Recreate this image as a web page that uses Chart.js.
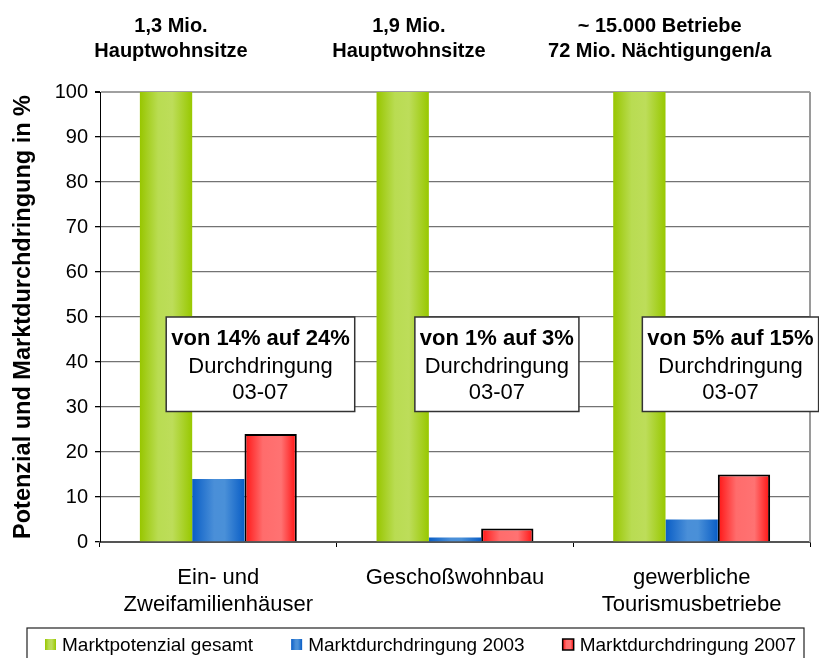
<!DOCTYPE html>
<html><head><meta charset="utf-8">
<script src="https://cdn.jsdelivr.net/npm/chart.js@4.4.1/dist/chart.umd.min.js"></script>
<style>html,body{margin:0;padding:0;background:#fff}#wrap{width:819px;height:658px}</style>
</head><body><div id="wrap"><canvas id="c" width="819" height="658"></canvas></div>
<script>
// ---- data ----
const categories = [['Ein- und', 'Zweifamilienhäuser'], 'Geschoßwohnbau', ['gewerbliche', 'Tourismusbetriebe']];
const seriesNames = ['Marktpotenzial gesamt', 'Marktdurchdringung 2003', 'Marktdurchdringung 2007'];
const marktpotenzial = [100, 100, 100];
const durchdringung2003 = [14, 1, 5];
const durchdringung2007 = [24, 3, 15];
const yTicks = [0, 10, 20, 30, 40, 50, 60, 70, 80, 90, 100];
const yTitle = 'Potenzial und Marktdurchdringung in %';
const headerLabels = [['1,3 Mio.', 'Hauptwohnsitze'], ['1,9 Mio.', 'Hauptwohnsitze'], ['~ 15.000 Betriebe', '72 Mio. Nächtigungen/a']];
const boxHeadlines = ['von 14% auf 24%', 'von 1% auf 3%', 'von 5% auf 15%'];
const boxSubLines = ['Durchdringung', '03-07'];

// ---- styling / layout ----
const FONT = "'Liberation Sans', Arial, sans-serif";
const CAT_PCT = 0.663;
const headerShift = [-0.2, -0.195, -0.135];   // fraction of category width
const boxShift = [0.178, 0.177, 0.164];
const boxTopValue = 50, boxBottomValue = 29;
const gradStops = [
  [[0, '#98c600'], [0.35, '#b9dc52'], [0.62, '#bddd5a'], [1, '#98c800']],
  [[0, '#0a5ec6'], [0.42, '#4a8fd8'], [0.62, '#4a90d8'], [1, '#0a5ec6']],
  [[0, '#ff1414'], [0.35, '#ff6c6c'], [0.7, '#ff7272'], [1, '#ff1010']]
];

function makeGrad(c2d, x0, x1, stops) {
  const g = c2d.createLinearGradient(x0, 0, x1, 0);
  stops.forEach(s => g.addColorStop(s[0], s[1]));
  return g;
}
function barFill(dsIndex) {
  return (ctx) => {
    const chart = ctx.chart;
    const xs = chart.scales && chart.scales.x;
    if (!xs || !xs.width || ctx.type !== 'data') return gradStops[dsIndex][1][1];
    const catW = xs.width / categories.length;
    const barW = catW * CAT_PCT / 3;
    const center = xs.getPixelForValue(ctx.dataIndex);
    const left = center - 1.5 * barW + dsIndex * barW;
    return makeGrad(chart.ctx, left, left + barW, gradStops[dsIndex]);
  };
}

const decor = {
  id: 'decor',
  afterDatasetsDraw(chart) {
    const { ctx, chartArea: a, scales: { x, y } } = chart;
    ctx.save();
    // right border of plot area
    ctx.strokeStyle = '#9a9a9a'; ctx.lineWidth = 2;
    ctx.beginPath(); ctx.moveTo(a.right, a.top); ctx.lineTo(a.right, a.bottom); ctx.stroke();

    const catW = a.width / categories.length;
    // annotation boxes
    const top = y.getPixelForValue(boxTopValue);
    const bottom = y.getPixelForValue(boxBottomValue);
    boxHeadlines.forEach((t, i) => {
      ctx.font = 'bold 22px ' + FONT;
      const w = ctx.measureText(t).width + 10;
      const cx = x.getPixelForValue(i) + boxShift[i] * catW;
      ctx.fillStyle = '#fff';
      ctx.fillRect(cx - w / 2, top, w, bottom - top);
      ctx.strokeStyle = '#333'; ctx.lineWidth = 1.5;
      ctx.strokeRect(cx - w / 2, top, w, bottom - top);
      ctx.fillStyle = '#000';
      ctx.textAlign = 'center'; ctx.textBaseline = 'alphabetic';
      ctx.fillText(t, cx, top + 27.5);
      ctx.font = '22px ' + FONT;
      boxSubLines.forEach((s, k) => ctx.fillText(s, cx, top + 55.5 + k * 26.5));
    });

    // header labels
    ctx.font = 'bold 20px ' + FONT;
    ctx.fillStyle = '#000';
    headerLabels.forEach((lines, i) => {
      const cx = x.getPixelForValue(i) + headerShift[i] * catW;
      lines.forEach((s, k) => ctx.fillText(s, cx, a.top - 60 + k * 25));
    });

    // legend
    const H = chart.height;
    ctx.strokeStyle = '#222'; ctx.lineWidth = 1.2;
    ctx.strokeRect(27, H - 30, 777, 45);
    ctx.font = '19px ' + FONT;
    ctx.textAlign = 'left';
    let lx = 45;
    seriesNames.forEach((n, i) => {
      ctx.fillStyle = makeGrad(ctx, lx, lx + 11, gradStops[i]);
      ctx.fillRect(lx, H - 19, 11, 11);
      if (i === 2) { ctx.strokeStyle = '#000'; ctx.lineWidth = 1.5; ctx.strokeRect(lx, H - 19, 11, 11); }
      ctx.fillStyle = '#000';
      ctx.fillText(n, lx + 17, H - 7);
      lx += 17 + ctx.measureText(n).width + 38;
    });
    ctx.restore();
  }
};

new Chart(document.getElementById('c'), {
  type: 'bar',
  data: {
    labels: categories,
    datasets: [
      { label: seriesNames[0], data: marktpotenzial, backgroundColor: barFill(0), borderWidth: 0 },
      { label: seriesNames[1], data: durchdringung2003, backgroundColor: barFill(1), borderWidth: 0 },
      { label: seriesNames[2], data: durchdringung2007, backgroundColor: barFill(2), borderColor: '#000', borderWidth: 2 }
    ]
  },
  options: {
    responsive: false,
    animation: false,
    devicePixelRatio: 1,
    categoryPercentage: CAT_PCT,
    barPercentage: 1,
    layout: { padding: { top: 92, right: 9, left: 0, bottom: 0 } },
    plugins: { legend: { display: false }, tooltip: { enabled: false } },
    scales: {
      x: {
        offset: true,
        afterFit: s => { s.height = 116; },
        grid: { display: true, drawOnChartArea: false, offset: true, tickLength: 5, tickColor: '#000', lineWidth: 1 },
        border: { color: '#555', width: 2 },
        ticks: { color: '#000', font: { family: FONT, size: 22, lineHeight: 1.2 }, padding: 18, maxRotation: 0, autoSkip: false }
      },
      y: {
        min: 0, max: 100,
        afterFit: s => { s.width = 100; },
        afterBuildTicks: s => { s.ticks = yTicks.map(v => ({ value: v })); },
        grid: {
          color: c => c.tick && c.tick.value === 100 ? '#a0a0a0' : '#737373',
          lineWidth: c => c.tick && c.tick.value === 100 ? 2 : 1.3,
          tickLength: 5, tickColor: '#000'
        },
        border: { color: '#000', width: 1 },
        ticks: { color: '#000', font: { family: FONT, size: 20 }, padding: 7 },
        title: { display: true, text: yTitle, color: '#000', font: { family: FONT, size: 23.5, weight: 'bold' }, padding: { top: 9, bottom: 0 } }
      }
    }
  },
  plugins: [decor]
});
</script></body></html>
